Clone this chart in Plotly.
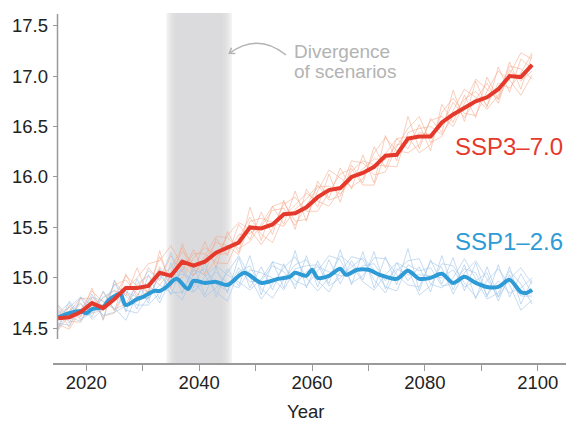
import plotly.graph_objects as go

# ---------------------------------------------------------------- data
# Global mean surface temperature (deg C), two emission scenarios.
years = list(range(2015, 2100, 2))

ssp370_mean = [14.60, 14.61, 14.66, 14.75, 14.70, 14.79, 14.90, 14.90, 14.92, 15.05,
               15.02, 15.16, 15.12, 15.16, 15.25, 15.30, 15.35, 15.50, 15.49, 15.53,
               15.63, 15.64, 15.70, 15.80, 15.87, 15.89, 16.00, 16.04, 16.10, 16.21,
               16.22, 16.38, 16.40, 16.40, 16.54, 16.62, 16.69, 16.75, 16.79, 16.87,
               17.00, 16.99, 17.11]

ssp370_members = [
    [14.50, 14.73, 14.61, 14.90, 14.58, 14.97, 14.82, 15.10, 14.82, 15.27, 14.90, 15.34, 15.06, 15.36,
     15.10, 15.46, 15.25, 15.70, 15.37, 15.71, 15.53, 15.86, 15.56, 15.96, 15.79, 16.09, 15.88, 16.22,
     15.94, 16.41, 16.16, 16.60, 16.28, 16.58, 16.44, 16.86, 16.55, 16.95, 16.69, 17.09, 16.84, 17.17, 17.07],
    [14.68, 14.51, 14.80, 14.67, 14.86, 14.67, 15.04, 14.80, 15.10, 14.97, 15.22, 15.06, 15.28, 15.04,
     15.39, 15.22, 15.53, 15.38, 15.65, 15.43, 15.77, 15.48, 15.88, 15.70, 16.03, 15.75, 16.12, 15.94,
     16.30, 16.09, 16.38, 16.28, 16.52, 16.26, 16.72, 16.54, 16.81, 16.59, 16.99, 16.77, 17.14, 16.87, 17.21],
    [14.60, 14.67, 14.80, 14.79, 14.62, 14.65, 14.88, 15.00, 15.14, 15.17, 15.32, 15.12, 15.02, 15.22,
     15.41, 15.40, 15.29, 15.36, 15.53, 15.71, 15.75, 15.56, 15.58, 15.86, 16.07, 15.99, 15.90, 15.98,
     16.24, 16.39, 16.26, 16.24, 16.32, 16.56, 16.60, 16.50, 16.73, 16.97, 16.87, 16.77, 17.02, 17.23, 17.17],
    [14.54, 14.49, 14.68, 14.87, 14.76, 14.69, 14.74, 14.94, 15.02, 14.93, 15.06, 15.26, 15.14, 15.02,
     15.19, 15.42, 15.55, 15.48, 15.33, 15.49, 15.73, 15.80, 15.66, 15.66, 15.85, 16.03, 16.08, 15.92,
     15.92, 16.23, 16.38, 16.40, 16.24, 16.32, 16.64, 16.78, 16.63, 16.61, 16.85, 17.05, 16.96, 16.81, 17.01],
    [14.64, 14.71, 14.58, 14.71, 14.80, 14.87, 14.84, 14.76, 14.88, 15.11, 14.92, 15.08, 15.24, 15.24,
     15.15, 15.14, 15.39, 15.60, 15.43, 15.35, 15.61, 15.72, 15.84, 15.76, 15.71, 15.87, 16.16, 16.14,
     16.02, 16.05, 16.30, 16.48, 16.60, 16.34, 16.40, 16.66, 16.87, 16.79, 16.67, 16.81, 17.10, 17.07, 16.97],
    [14.72, 14.57, 14.56, 14.81, 14.72, 14.93, 14.98, 14.84, 14.80, 15.03, 15.10, 15.30, 15.02, 15.18,
     15.35, 15.32, 15.23, 15.56, 15.59, 15.55, 15.51, 15.68, 15.78, 15.92, 15.77, 15.81, 16.06, 16.16,
     16.12, 16.11, 16.10, 16.44, 16.48, 16.50, 16.42, 16.60, 16.77, 16.85, 16.71, 16.93, 16.88, 17.03, 17.23],
    [14.48, 14.63, 14.74, 14.65, 14.68, 14.81, 15.02, 14.92, 14.86, 15.21, 14.96, 15.00, 15.20, 15.30,
     15.23, 15.24, 15.43, 15.44, 15.51, 15.67, 15.69, 15.52, 15.72, 15.90, 15.91, 15.83, 15.98, 16.08,
     16.18, 16.17, 16.32, 16.34, 16.44, 16.42, 16.50, 16.74, 16.59, 16.77, 16.93, 16.73, 17.06, 16.95, 17.05],
]

ssp126_years = [2015, 2017, 2019, 2020, 2021, 2023, 2024, 2026, 2027, 2029, 2030, 2032, 2033, 2034,
                2036, 2038, 2039, 2041, 2043, 2045, 2048, 2051, 2054, 2056, 2057, 2059, 2060, 2061,
                2063, 2065, 2066, 2068, 2070, 2072, 2075, 2077, 2079, 2081, 2083, 2085, 2087, 2089,
                2091, 2093, 2095, 2097, 2098, 2099]
ssp126_mean = [14.61, 14.65, 14.67, 14.65, 14.69, 14.71, 14.78, 14.84, 14.73, 14.79, 14.81, 14.87,
               14.87, 14.90, 14.99, 14.89, 14.97, 14.95, 14.96, 14.93, 15.05, 14.95, 14.99, 15.01,
               15.05, 15.02, 15.08, 15.00, 15.02, 15.09, 15.03, 15.08, 15.08, 15.03, 14.99, 15.07,
               14.99, 15.00, 15.04, 14.95, 15.01, 14.95, 14.91, 14.91, 14.98, 14.86, 14.85, 14.88]

ssp126_members = [
    [14.51, 14.77, 14.62, 14.84, 14.59, 14.98, 14.66, 14.99, 14.75, 15.09, 14.83, 15.12, 14.90, 15.15,
     14.81, 15.09, 14.92, 15.22, 14.83, 15.16, 14.90, 15.27, 14.90, 15.17, 14.94, 15.28, 14.93, 15.26,
     14.90, 15.21, 14.93, 15.29, 14.87, 15.18, 14.94, 15.20, 14.87, 15.15, 14.81, 15.13, 14.81, 15.04, 14.84],
    [14.69, 14.55, 14.81, 14.61, 14.87, 14.68, 14.88, 14.69, 15.03, 14.79, 15.15, 14.84, 15.12, 14.83,
     15.10, 14.85, 15.20, 14.90, 15.11, 14.88, 15.14, 14.89, 15.22, 14.91, 15.18, 14.94, 15.17, 14.98,
     15.26, 14.89, 15.15, 14.97, 15.11, 14.86, 15.22, 14.88, 15.13, 14.79, 15.11, 14.81, 15.11, 14.74, 14.98],
    [14.55, 14.53, 14.69, 14.81, 14.77, 14.70, 14.58, 14.83, 14.95, 14.75, 14.99, 15.04, 14.98, 14.81,
     14.90, 15.05, 15.22, 15.00, 14.79, 14.94, 15.10, 15.21, 15.00, 14.87, 15.00, 15.22, 15.13, 14.96,
     14.88, 15.03, 15.15, 15.09, 14.83, 14.92, 15.14, 15.12, 14.95, 14.81, 14.97, 15.09, 14.93, 14.68, 14.78],
    [14.65, 14.75, 14.59, 14.65, 14.81, 14.88, 14.68, 14.65, 14.81, 14.93, 14.85, 14.86, 15.08, 15.03,
     14.86, 14.77, 15.06, 15.12, 14.89, 14.80, 14.98, 15.13, 15.18, 14.97, 14.86, 15.06, 15.21, 15.18,
     14.98, 14.85, 15.07, 15.17, 15.19, 14.94, 14.90, 15.00, 15.19, 14.99, 14.79, 14.85, 15.07, 14.94, 14.74],
    [14.73, 14.61, 14.57, 14.75, 14.73, 14.94, 14.82, 14.73, 14.73, 14.85, 15.03, 15.08, 14.86, 14.97,
     15.06, 14.95, 14.90, 15.08, 15.05, 15.00, 14.88, 15.09, 15.12, 15.13, 14.92, 15.00, 15.11, 15.20,
     15.08, 14.91, 14.87, 15.13, 15.07, 15.10, 14.92, 14.94, 15.09, 15.05, 14.83, 14.97, 14.85, 14.90, 15.00],
    [14.49, 14.67, 14.75, 14.59, 14.69, 14.82, 14.86, 14.81, 14.79, 15.03, 14.89, 14.78, 15.04, 15.09,
     14.94, 14.87, 15.10, 14.96, 14.97, 15.12, 15.06, 14.93, 15.06, 15.11, 15.06, 15.02, 15.03, 15.12,
     15.14, 14.97, 15.09, 15.03, 15.03, 15.02, 15.00, 15.08, 14.91, 14.97, 15.05, 14.77, 15.03, 14.82, 14.82],
    [14.61, 14.71, 14.81, 14.73, 14.63, 14.66, 14.72, 14.89, 15.07, 14.99, 15.25, 14.90, 14.86, 15.01,
     15.12, 15.03, 14.96, 14.88, 14.99, 15.16, 15.12, 14.97, 14.92, 15.07, 15.22, 15.18, 14.95, 15.02,
     15.20, 15.19, 15.03, 14.93, 14.91, 15.16, 15.10, 14.84, 15.05, 15.17, 14.99, 14.81, 14.99, 15.10, 14.94],
]

y_ticks = [14.5, 15.0, 15.5, 16.0, 16.5, 17.0, 17.5]
x_ticks = [2020, 2030, 2040, 2050, 2060, 2070, 2080, 2090, 2100]
x_tick_labels = ["2020", "", "2040", "", "2060", "", "2080", "", "2100"]

divergence_window = (2035, 2045)

# ---------------------------------------------------------------- styling
RED = "#e5392c"
RED_LIGHT = "rgba(244,165,135,0.55)"
BLUE = "#2e9bd6"
BLUE_LIGHT = "rgba(160,196,234,0.6)"
GREY_TEXT = "#b3b3b3"
AXIS_GREY = "#9a9a9a"
FONT = "Liberation Sans, Arial, sans-serif"

W, H = 566, 424
L, R, T, B = 53, 0, 10, 61
PW, PH = W - L - R, H - T - B


def px(xp, yp):
    """Pixel position -> paper coordinates."""
    return (xp - L) / PW, (H - B - yp) / PH


fig = go.Figure()

for m in ssp370_members:
    fig.add_trace(go.Scatter(x=years, y=m, mode="lines", hoverinfo="skip",
                             line=dict(color=RED_LIGHT, width=1)))
for m in ssp126_members:
    fig.add_trace(go.Scatter(x=years, y=m, mode="lines", hoverinfo="skip",
                             line=dict(color=BLUE_LIGHT, width=1)))

fig.add_trace(go.Scatter(x=ssp126_years, y=ssp126_mean, mode="lines", name="SSP1–2.6",
                         line=dict(color=BLUE, width=4, shape="spline", smoothing=0.8)))
fig.add_trace(go.Scatter(x=years, y=ssp370_mean, mode="lines", name="SSP3–7.0",
                         line=dict(color=RED, width=4, shape="linear")))

shapes = []
# soft-edged grey band marking where the scenarios separate
a, b = divergence_window
for k in range(5):
    pad = 0.8 - 0.4 * k
    shapes.append(dict(type="rect", xref="x", yref="paper", layer="below",
                       x0=a - pad, x1=b + pad, y0=0, y1=px(0, 13)[1],
                       fillcolor="rgb(214,215,218)", opacity=0.35, line=dict(width=0)))

# y axis spine, detached from the x axis
x_sp = px(57.5, 0)[0]
shapes.append(dict(type="line", xref="paper", yref="paper",
                   x0=x_sp, x1=x_sp, y0=px(0, 339)[1], y1=px(0, 14)[1],
                   line=dict(color=AXIS_GREY, width=1.5)))

# curved pointer towards the band
p0, c, p2 = px(286, 55), px(258.3, 32.4), px(229.3, 53.3)
shapes.append(dict(type="path", xref="paper", yref="paper",
                   path=f"M {p0[0]},{p0[1]} Q {c[0]},{c[1]} {p2[0]},{p2[1]}",
                   line=dict(color=GREY_TEXT, width=1.5)))
h1, h2 = px(235.3, 53.4), px(231.5, 47.8)
shapes.append(dict(type="path", xref="paper", yref="paper",
                   path=f"M {h1[0]},{h1[1]} L {p2[0]},{p2[1]} L {h2[0]},{h2[1]}",
                   line=dict(color=GREY_TEXT, width=1.5)))

annotations = [
    dict(text="SSP3–7.0", x=px(565, 0)[0], y=px(0, 146.5)[1], xref="paper", yref="paper",
         xanchor="right", yanchor="middle", showarrow=False,
         font=dict(family=FONT, size=24, color=RED)),
    dict(text="SSP1–2.6", x=px(565, 0)[0], y=px(0, 241.5)[1], xref="paper", yref="paper",
         xanchor="right", yanchor="middle", showarrow=False,
         font=dict(family=FONT, size=24, color=BLUE)),
    dict(text="Divergence", x=px(292, 0)[0], y=px(0, 51.5)[1], xref="paper", yref="paper",
         xanchor="left", yanchor="middle", showarrow=False,
         font=dict(family=FONT, size=19, color=GREY_TEXT)),
    dict(text="of scenarios", x=px(292, 0)[0], y=px(0, 71.5)[1], xref="paper", yref="paper",
         xanchor="left", yanchor="middle", showarrow=False,
         font=dict(family=FONT, size=19, color=GREY_TEXT)),
    dict(text="Year", x=px(305, 0)[0], y=px(0, 411)[1], xref="paper", yref="paper",
         xanchor="center", yanchor="middle", showarrow=False,
         font=dict(family=FONT, size=18.5, color="#222222")),
]

fig.update_layout(
    width=W, height=H,
    margin=dict(l=L, r=R, t=T, b=B, pad=0),
    paper_bgcolor="white", plot_bgcolor="white",
    showlegend=False,
    font=dict(family=FONT, size=18.5, color="#222222"),
    shapes=shapes, annotations=annotations,
    xaxis=dict(range=[2014.1, 2105], tickvals=x_ticks, ticktext=x_tick_labels,
               showgrid=False, zeroline=False, showline=True, linecolor=AXIS_GREY, linewidth=2,
               ticks="outside", ticklen=6, tickcolor=AXIS_GREY, tickwidth=1.2,
               ticklabelstandoff=-4,
               tickfont=dict(family=FONT, size=18.5, color="#222222")),
    yaxis=dict(range=[14.156, 17.655], tickvals=y_ticks, tickformat=".1f",
               showgrid=False, zeroline=False, showline=False,
               ticks="inside", ticklen=5, tickcolor=AXIS_GREY, tickwidth=1.2,
               ticklabelstandoff=4,
               tickfont=dict(family=FONT, size=18.5, color="#222222")),
)

fig.write_html("out.html")
